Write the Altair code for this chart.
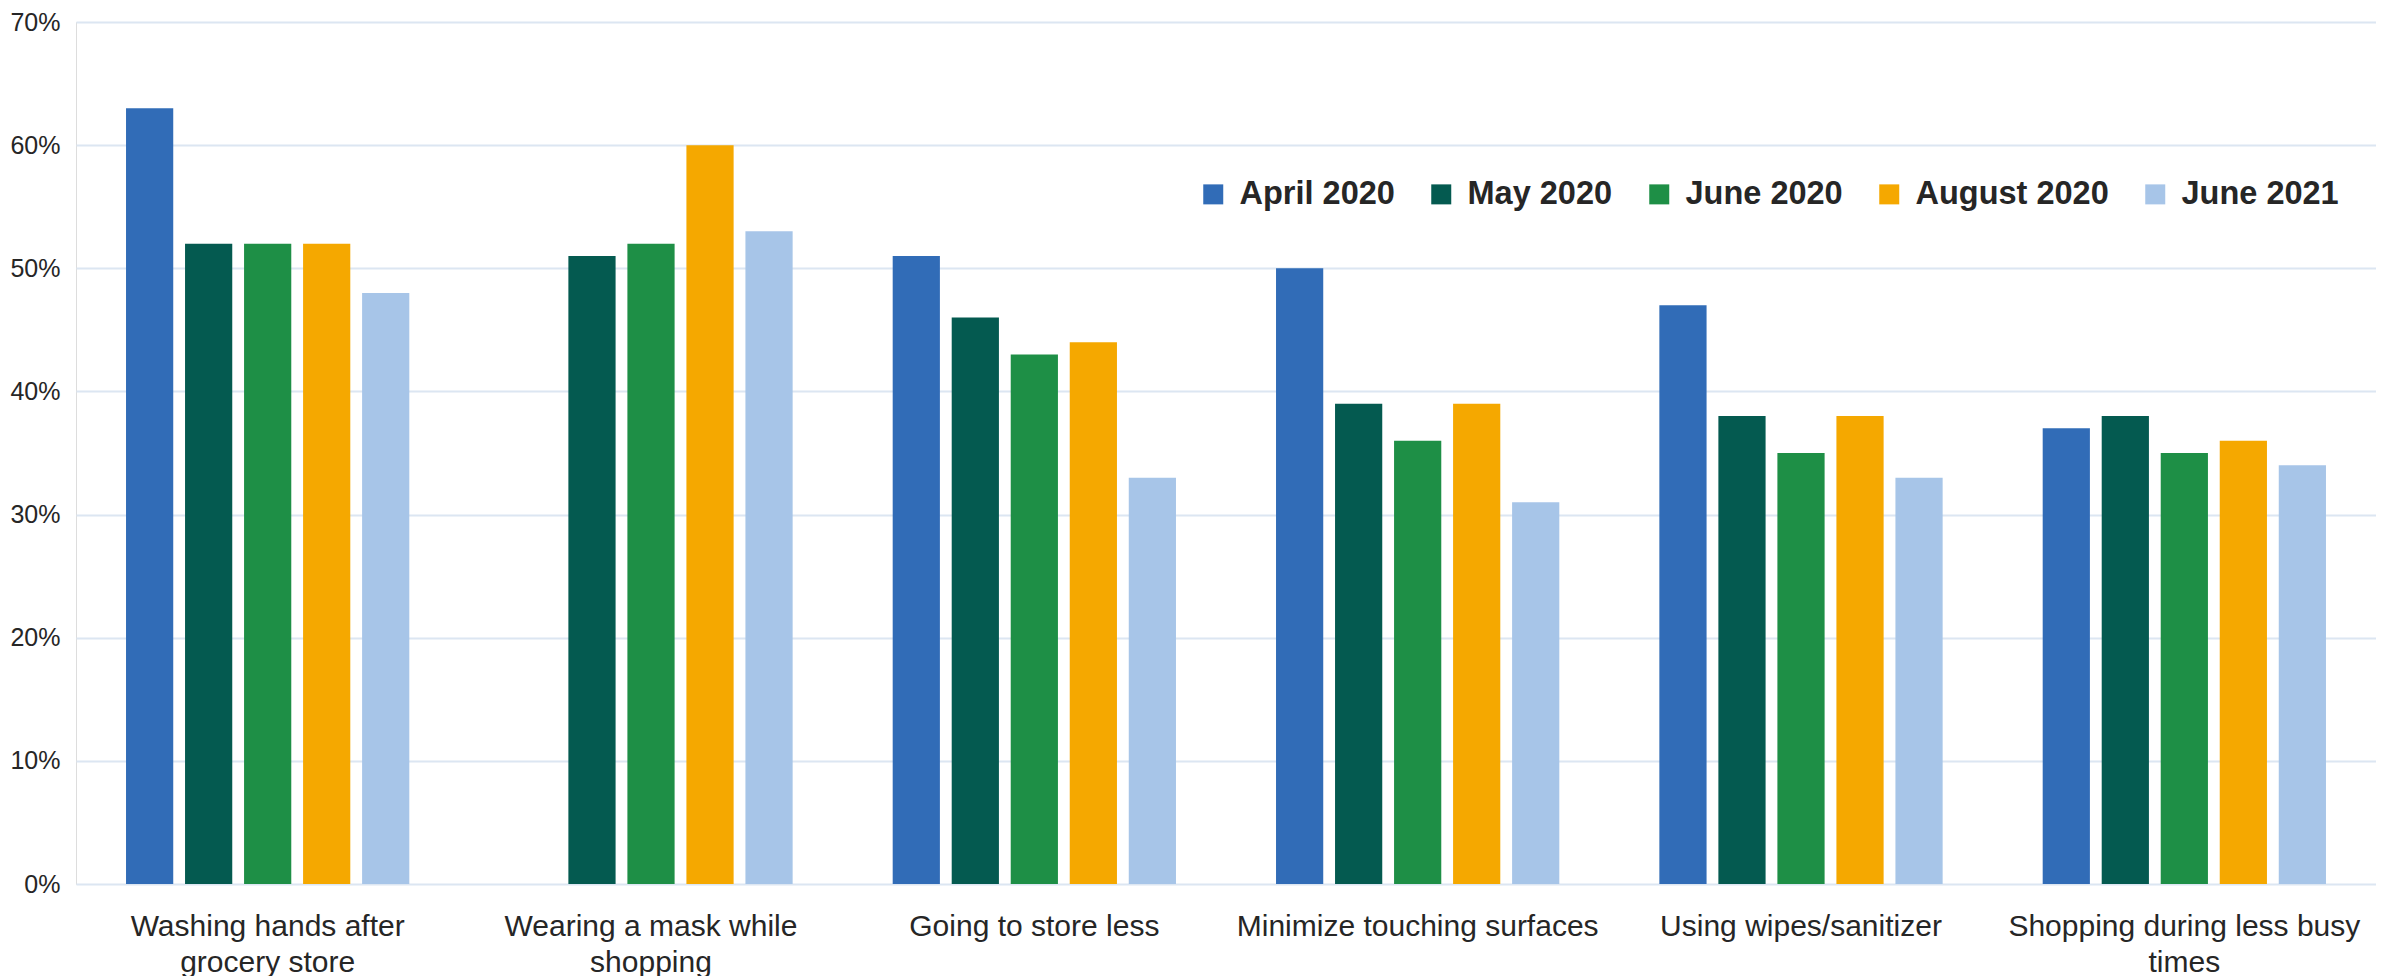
import altair as alt
import pandas as pd

categories = [
    "Washing hands after grocery store",
    "Wearing a mask while shopping",
    "Going to store less",
    "Minimize touching surfaces",
    "Using wipes/sanitizer",
    "Shopping during less busy times",
]
series = ["April 2020", "May 2020", "June 2020", "August 2020", "June 2021"]
april_2020 = [63, None, 51, 50, 47, 37]
may_2020 = [52, 51, 46, 39, 38, 38]
june_2020 = [52, 52, 43, 36, 35, 35]
august_2020 = [52, 60, 44, 39, 38, 36]
june_2021 = [48, 53, 33, 31, 33, 34]
colors = ["#316cb7", "#045a50", "#1e8f46", "#f5a800", "#a7c5e8"]
y_ticks = [0, 0.1, 0.2, 0.3, 0.4, 0.5, 0.6, 0.7]

rows = []
for s, vals in zip(series, [april_2020, may_2020, june_2020, august_2020, june_2021]):
    for c, v in zip(categories, vals):
        if v is not None:
            rows.append({"category": c, "series": s, "value": v / 100})
df = pd.DataFrame(rows)

wrap = {
    "Washing hands after grocery store": ["Washing hands after", "grocery store"],
    "Wearing a mask while shopping": ["Wearing a mask while", "shopping"],
    "Shopping during less busy times": ["Shopping during less busy", "times"],
}
expr = "datum.label"
for k, v in wrap.items():
    expr = f"datum.label == '{k}' ? ['{v[0]}', '{v[1]}'] : (" + expr + ")"

chart = alt.Chart(df).mark_bar().encode(
    x=alt.X(
        "category:N",
        sort=categories,
        scale=alt.Scale(paddingInner=0.261, paddingOuter=0.1305),
        axis=alt.Axis(
            title=None,
            labelAngle=0,
            domain=False,
            ticks=False,
            labelFont="Liberation Sans",
            labelFontSize=30,
            labelColor="#262626",
            labelPadding=27,
            labelLineHeight=36,
            labelExpr=expr,
            labelLimit=1000,
        ),
    ),
    xOffset=alt.XOffset(
        "series:N", sort=series, scale=alt.Scale(paddingInner=0.2, paddingOuter=0)
    ),
    y=alt.Y(
        "value:Q",
        scale=alt.Scale(domain=[0, 0.7], nice=False),
        axis=alt.Axis(
            title=None,
            format=".0%",
            values=y_ticks,
            domain=False,
            ticks=False,
            grid=True,
            gridColor="#dce6f2",
            gridWidth=2,
            labelFont="Liberation Sans",
            labelFontSize=25,
            labelColor="#262626",
            labelPadding=16,
        ),
    ),
    color=alt.Color(
        "series:N",
        sort=series,
        scale=alt.Scale(domain=series, range=colors),
        legend=alt.Legend(
            title=None,
            orient="none",
            direction="horizontal",
            legendX=1121,
            legendY=156,
            symbolType="square",
            symbolSize=400,
            symbolStrokeWidth=0,
            symbolOpacity=1,
            labelFont="Liberation Sans",
            labelFontWeight="bold",
            labelFontSize=32.5,
            labelColor="#262626",
            labelOffset=10,
            columnPadding=30,
            labelLimit=1000,
        ),
    ),
).properties(
    width=2300,
    height=862,
    autosize=alt.AutoSizeParams(type="none"),
    padding={"left": 68, "top": 14, "right": 0, "bottom": 100},
).configure_view(stroke=None).configure(background="white")

chart.save("out.html", embed_options={"renderer": "svg", "actions": False})
